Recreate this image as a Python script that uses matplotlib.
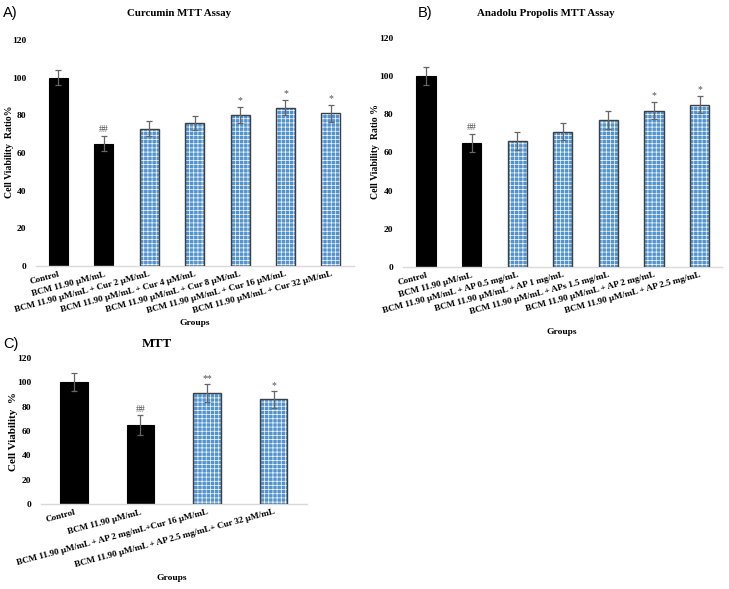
import numpy as np
import matplotlib
matplotlib.use("Agg")
import matplotlib.pyplot as plt

# panel A: curcumin
a_labels = ["Control", "BCM 11.90 µM/mL", "BCM 11.90 µM/mL + Cur 2 µM/mL",
            "BCM 11.90 µM/mL + Cur 4 µM/mL", "BCM 11.90 µM/mL + Cur 8 µM/mL",
            "BCM 11.90 µM/mL + Cur 16 µM/mL", "BCM 11.90 µM/mL + Cur 32 µM/mL"]
a_values = [100, 65, 73, 76, 80, 84, 81]
a_errors = [4.0, 4.0, 4.2, 3.9, 4.2, 4.0, 4.5]
a_marks = ["", "##", "", "", "*", "*", "*"]

# panel B: anadolu propolis
b_labels = ["Control", "BCM 11.90 µM/mL", "BCM 11.90 µM/mL + AP 0.5 mg/mL",
            "BCM 11.90 µM/mL + AP 1 mg/mL", "BCM 11.90 µM/mL + APs 1.5 mg/mL",
            "BCM 11.90 µM/mL + AP 2 mg/mL", "BCM 11.90 µM/mL + AP 2.5 mg/mL"]
b_values = [100, 65, 66, 71, 77, 82, 85]
b_errors = [4.7, 4.7, 4.5, 4.5, 4.7, 4.7, 4.5]
b_marks = ["", "##", "", "", "", "*", "*"]

# panel C: combination
c_labels = ["Control", "BCM 11.90 µM/mL", "BCM 11.90 µM/mL + AP 2 mg/mL+Cur 16 µM/mL",
            "BCM 11.90 µM/mL + AP 2.5 mg/mL+ Cur 32 µM/mL"]
c_values = [100, 65, 91, 86]
c_errors = [7.4, 8.0, 7.4, 7.0]
c_marks = ["", "##", "**", "*"]

SERIF = "Liberation Serif"
SANS = "Liberation Sans"
BLUE = "#4F93D4"
ERR = "#666666"

plt.rcParams.update({
    "font.family": SERIF,
    "font.weight": "bold",
    "hatch.linewidth": 0.5,
})


def draw_panel(ax, labels, values, errors, marks, width, tick_fs):
    x = np.arange(len(values))
    n_black = 2
    ax.bar(x[:n_black], values[:n_black], width=width, color="black",
           edgecolor="black", linewidth=0.8, zorder=2)
    ax.bar(x[n_black:], values[n_black:], width=width, color=BLUE,
           edgecolor="white", hatch="++++", linewidth=0, zorder=2)
    ax.bar(x[n_black:], values[n_black:], width=width, fill=False,
           edgecolor="#3F3F3F", linewidth=1.0, zorder=3)
    ax.errorbar(x, values, yerr=errors, fmt="none", ecolor=ERR,
                elinewidth=0.9, capsize=2.2, capthick=0.9, zorder=4)
    for xi, v, e, m in zip(x, values, errors, marks):
        if m:
            ax.text(xi, v + e + 1.0, m, ha="center", va="bottom",
                    fontsize=7, color="#505050", fontweight="normal")
    ax.set_xlim(-0.5, len(values) - 0.5)
    ax.set_ylim(0, 120)
    ax.set_yticks(np.arange(0, 121, 20))
    ax.set_xticks(x)
    ax.set_xticklabels(labels, rotation=15, ha="right", rotation_mode="anchor",
                       fontsize=tick_fs, fontweight="bold")
    ax.tick_params(axis="y", length=0, pad=7, labelsize=6.8)
    ax.tick_params(axis="x", length=0, pad=3)
    for s in ["top", "right", "left"]:
        ax.spines[s].set_visible(False)
    ax.spines["bottom"].set_color("#D9D9D9")
    ax.spines["bottom"].set_linewidth(1.0)
    for t in ax.get_yticklabels():
        t.set_fontweight("bold")


fig = plt.figure(figsize=(7.29, 5.89), dpi=100)

ax_a = fig.add_axes([0.049, 0.5484, 0.436, 0.3837])
draw_panel(ax_a, a_labels, a_values, a_errors, a_marks, 0.42, 6.6)
ax_b = fig.add_axes([0.553, 0.5467, 0.438, 0.3888])
draw_panel(ax_b, b_labels, b_values, b_errors, b_marks, 0.42, 6.6)
ax_c = fig.add_axes([0.0558, 0.1443, 0.365, 0.2479])
draw_panel(ax_c, c_labels, c_values, c_errors, c_marks, 0.41, 6.6)

# titles and panel letters
fig.text(179 / 729, 1 - 13 / 589, "Curcumin MTT Assay", ha="center", va="center",
         fontsize=7.8, fontweight="bold")
fig.text(546 / 729, 1 - 13 / 589, "Anadolu Propolis MTT Assay", ha="center", va="center",
         fontsize=7.8, fontweight="bold")
fig.text(157 / 729, 1 - 344 / 589, "MTT", ha="center", va="center",
         fontsize=9.5, fontweight="bold")
fig.text(3 / 729, 1 - 13 / 589, "A)", ha="left", va="center", fontsize=10.5,
         family=SANS, fontweight="normal")
fig.text(418 / 729, 1 - 13 / 589, "B)", ha="left", va="center", fontsize=10.5,
         family=SANS, fontweight="normal")
fig.text(3 / 729, 1 - 344 / 589, "C)", ha="left", va="center", fontsize=10.5,
         family=SANS, fontweight="normal")

# axis titles
fig.text(10 / 729, 1 - 152 / 589, "Cell Viability  Ratio%", rotation=90, ha="center",
         va="center", fontsize=7, fontweight="bold")
fig.text(375 / 729, 1 - 152 / 589, "Cell Viability  Ratio %", rotation=90, ha="center",
         va="center", fontsize=7, fontweight="bold")
fig.text(14 / 729, 1 - 432 / 589, "Cell Viability  %", rotation=90, ha="center",
         va="center", fontsize=8, fontweight="bold")
fig.text(195 / 729, 1 - 323 / 589, "Groups", ha="center", va="center",
         fontsize=6.8, fontweight="bold")
fig.text(562 / 729, 1 - 332 / 589, "Groups", ha="center", va="center",
         fontsize=6.8, fontweight="bold")
fig.text(172 / 729, 1 - 578 / 589, "Groups", ha="center", va="center",
         fontsize=6.8, fontweight="bold")

fig.savefig("out.png", dpi=100)
